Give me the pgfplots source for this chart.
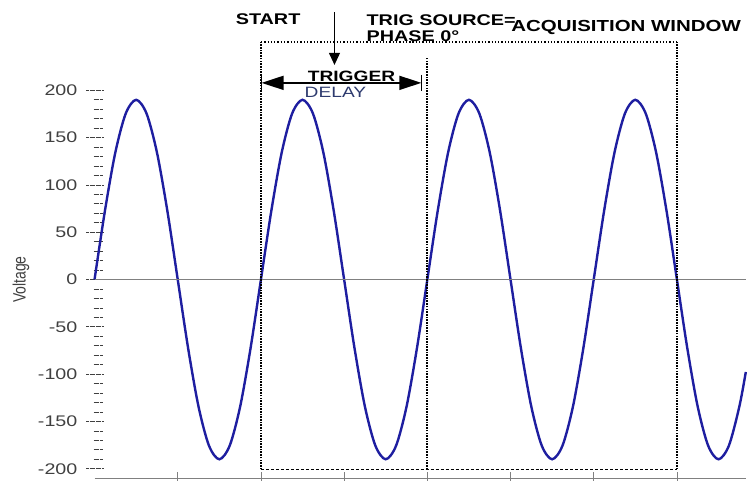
\documentclass[border=0pt]{standalone}
\usepackage{fontspec}
\setmainfont{Liberation Sans}
\usepackage{graphicx}
\usepackage{pgfplots}
\pgfplotsset{compat=1.18}
\usetikzlibrary{arrows.meta}
\definecolor{wave}{HTML}{1E1EA0}
\definecolor{lbl}{HTML}{404040}
\definecolor{delay}{HTML}{2D3A6E}
\newcommand\hs[1]{\scalebox{1.28}[1]{#1}}
\begin{document}
\begin{tikzpicture}
\begin{axis}[
  scale only axis, width=652.3pt, height=397.95pt,
  xmin=0, xmax=7.828, ymin=-210, ymax=210,
  clip=false,
  axis x line*=bottom, axis y line*=left,
  x axis line style={draw=gray, line width=0.8pt},
  y axis line style={draw=none},
  xtick=\empty,
  ytick={-200,-150,...,200},
  minor y tick num=4,
  tick align=outside,
  major tick length=17pt, minor tick length=9pt,
  major y tick style={xshift=8.5pt, densely dotted, draw=lbl, line width=0.8pt},
  minor y tick style={xshift=8pt, densely dotted, draw=lbl, line width=0.8pt},
  /pgf/number format/assume math mode=true,
  yticklabel style={font=\fontsize{15.4}{18}\selectfont, text=lbl, inner sep=0pt, anchor=east},
  yticklabel={\hs{\pgfmathprintnumber{\tick}}},
]
\addplot[wave, line width=2.4pt, smooth] coordinates {
(0,0)(0.125,72.7)(0.25,134.4)(0.375,175.5)(0.5,190)(0.625,175.5)(0.75,134.4)(0.875,72.7)
(1,0)(1.125,-72.7)(1.25,-134.4)(1.375,-175.5)(1.5,-190)(1.625,-175.5)(1.75,-134.4)(1.875,-72.7)
(2,0)(2.125,72.7)(2.25,134.4)(2.375,175.5)(2.5,190)(2.625,175.5)(2.75,134.4)(2.875,72.7)
(3,0)(3.125,-72.7)(3.25,-134.4)(3.375,-175.5)(3.5,-190)(3.625,-175.5)(3.75,-134.4)(3.875,-72.7)
(4,0)(4.125,72.7)(4.25,134.4)(4.375,175.5)(4.5,190)(4.625,175.5)(4.75,134.4)(4.875,72.7)
(5,0)(5.125,-72.7)(5.25,-134.4)(5.375,-175.5)(5.5,-190)(5.625,-175.5)(5.75,-134.4)(5.875,-72.7)
(6,0)(6.125,72.7)(6.25,134.4)(6.375,175.5)(6.5,190)(6.625,175.5)(6.75,134.4)(6.875,72.7)
(7,0)(7.125,-72.7)(7.25,-134.4)(7.375,-175.5)(7.5,-190)(7.625,-175.5)(7.75,-134.4)(7.828,-97.7)
};
% bounding box of the whole picture
\path (axis cs:-1.1364,295.5) rectangle (axis cs:7.828,-213.2);
% zero line
\draw[gray, line width=0.8pt] (axis cs:0,0) -- (axis cs:7.828,0);
% x ticks
\pgfplotsinvokeforeach{1,2,3,4,5,6,7}{\draw[gray, line width=0.8pt] (axis cs:#1,-203.7) -- (axis cs:#1,-213.2);}
% acquisition window
\draw[black, line width=2pt, dash pattern=on 1.6pt off 1.1pt] (axis cs:2,-200.5) -- (axis cs:2,251.2);
\draw[black, line width=2pt, dash pattern=on 1.6pt off 1.1pt] (axis cs:7,-200.5) -- (axis cs:7,251.2);
\draw[black, line width=2pt, dash pattern=on 1.6pt off 1.1pt] (axis cs:4,-200.5) -- (axis cs:4,234.3);
\draw[black, line width=1.3pt, dash pattern=on 1.3pt off 2pt] (axis cs:2,251.2) -- (axis cs:7,251.2);
\draw[black, line width=1.4pt, dash pattern=on 3pt off 2pt] (axis cs:2,-200.5) -- (axis cs:7,-200.5);
% trigger delay arrow
\draw[black, line width=1.6pt, {Triangle[length=22pt,width=14pt]}-{Triangle[length=22pt,width=14pt]}] (axis cs:2.008,207.9) -- (axis cs:3.928,207.9);
\draw[black, line width=1.6pt] (axis cs:2.008,216.4) -- (axis cs:2.008,199.5);
\draw[black, line width=1.6pt] (axis cs:3.928,216.4) -- (axis cs:3.928,199.5);
% start arrow
\draw[black, line width=1pt, -{Triangle[length=12pt,width=11pt]}] (axis cs:2.884,282.8) -- (axis cs:2.884,226.9);
% texts
\node[anchor=base, inner sep=0pt, font=\bfseries\fontsize{15.5}{18}\selectfont] at (axis cs:2.086,269.1) {\hs{START}};
\node[anchor=base west, inner sep=0pt, font=\bfseries\fontsize{15.5}{18}\selectfont] at (axis cs:3.268,268.1) {\hs{TRIG SOURCE=}};
\node[anchor=base west, inner sep=0pt, font=\bfseries\fontsize{15.5}{18}\selectfont] at (axis cs:3.268,251.2) {\hs{PHASE 0°}};
\node[anchor=base west, inner sep=0pt, font=\bfseries\fontsize{16}{18}\selectfont] at (axis cs:5.008,261.7) {\hs{ACQUISITION WINDOW}};
\node[anchor=base, inner sep=0pt, font=\bfseries\fontsize{15}{18}\selectfont] at (axis cs:3.088,209.0) {\hs{TRIGGER}};
\node[anchor=base west, inner sep=0pt, text=delay, font=\fontsize{15}{18}\selectfont] at (axis cs:2.524,192.1) {\hs{DELAY}};
\node[rotate=90, inner sep=0pt, text=lbl, font=\fontsize{14}{16}\selectfont] at (axis cs:-0.884,0) {\scalebox{1}[1.28]{Voltage}};
\end{axis}
\end{tikzpicture}
\end{document}
